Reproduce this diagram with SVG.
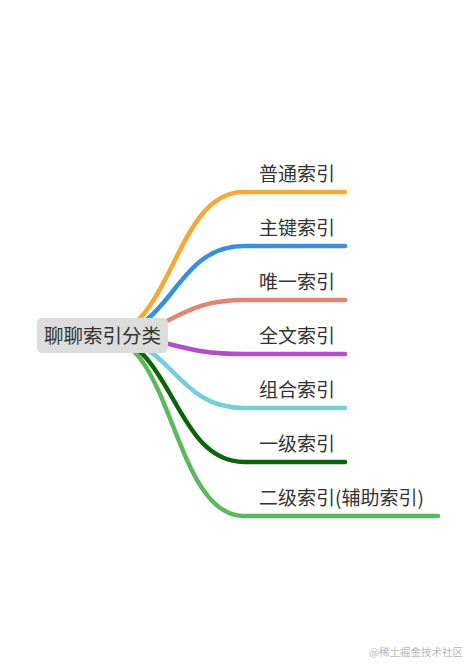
<svg xmlns="http://www.w3.org/2000/svg" width="474" height="672" viewBox="0 0 474 672">
<style>
.link{fill:none;stroke-width:4.5;stroke-linecap:round;stroke-linejoin:round}
.lbl{font-family:"Noto Sans CJK SC","Noto Sans",sans-serif;font-size:19px;fill:#333}
.root{font-family:"Noto Sans CJK SC","Noto Sans",sans-serif;font-size:19.5px;fill:#333}
.wm{font-family:"Noto Sans CJK SC","Noto Sans",sans-serif;font-size:10.5px;fill:#b8b8b8}
</style>
<rect width="474" height="672" fill="#ffffff"/>
<g id="connectors">
<path class="link" stroke="#F6A93B" d="M102 336 C173 336,173 192,244 192 L345 192"/>
<path class="link" stroke="#3B8DDD" d="M102 336 C173 336,173 246,244 246 L345 246"/>
<path class="link" stroke="#DE8574" d="M102 336 C173 336,173 300,244 300 L345 300"/>
<path class="link" stroke="#B14EC5" d="M102 336 C173 336,173 354,244 354 L345 354"/>
<path class="link" stroke="#77CDDA" d="M102 336 C173 336,173 408,244 408 L345 408"/>
<path class="link" stroke="#5CB85C" d="M102 336 C173 336,173 516,244 516 L438 516"/>
<path class="link" stroke="#0A640A" d="M102 336 C173 336,173 462,244 462 L345 462"/>
</g>
<g id="root">
<rect x="37" y="318" width="131" height="35" rx="5" fill="#DCDCDC"/>
<text class="root" x="102.5" y="342.5" text-anchor="middle">聊聊索引分类</text>
</g>
<g id="n1"><text class="lbl" x="259" y="181">普通索引</text></g>
<g id="n2"><text class="lbl" x="259" y="235">主键索引</text></g>
<g id="n3"><text class="lbl" x="259" y="289">唯一索引</text></g>
<g id="n4"><text class="lbl" x="259" y="343">全文索引</text></g>
<g id="n5"><text class="lbl" x="259" y="397">组合索引</text></g>
<g id="n6"><text class="lbl" x="259" y="451">一级索引</text></g>
<g id="n7"><text class="lbl" x="259" y="505">二级索引(辅助索引)</text></g>
<text class="wm" x="369" y="656">@稀土掘金技术社区</text>
</svg>
